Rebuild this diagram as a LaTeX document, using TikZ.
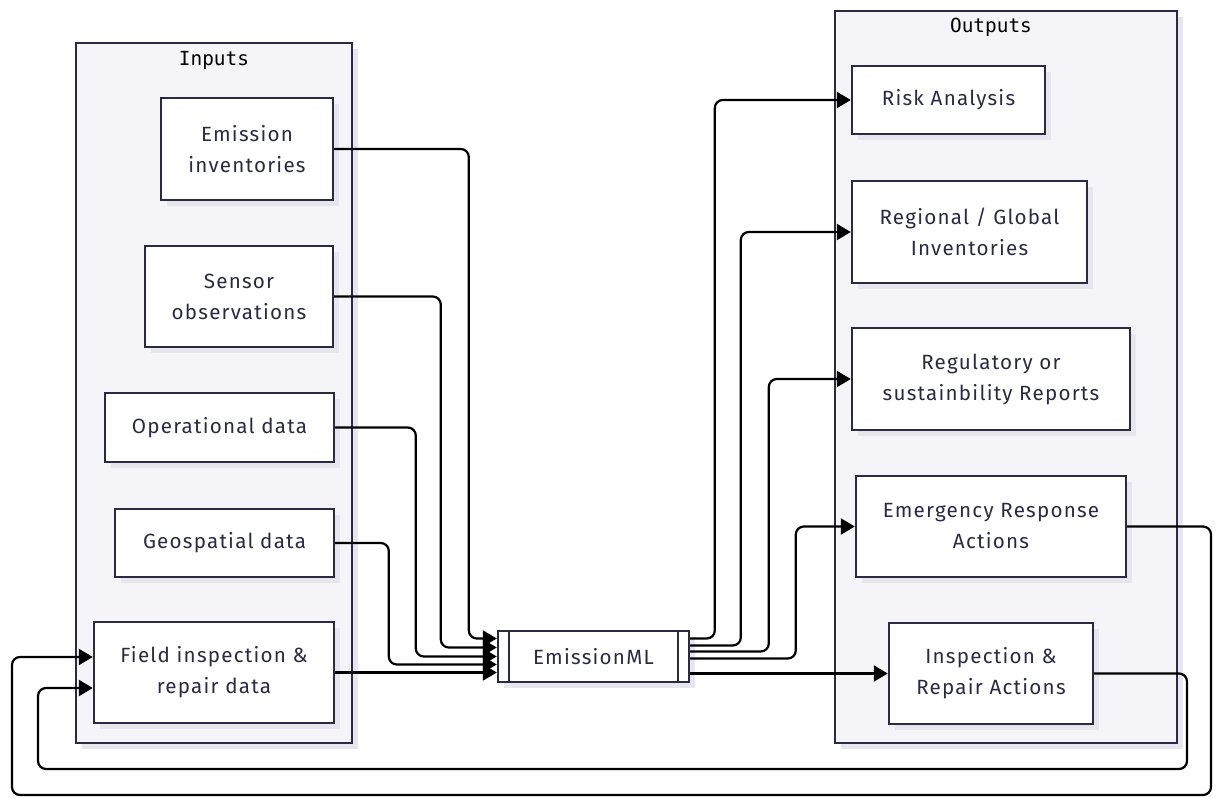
\documentclass[tikz,border=0pt]{standalone}
\usepackage{fontspec}
\setmainfont{Fira Sans}[LetterSpace=6]
\newfontfamily\titlefont{DejaVu Sans Mono}
\usetikzlibrary{arrows.meta,positioning,calc,shadows}
\definecolor{navy}{RGB}{42,42,69}
\definecolor{panel}{RGB}{244,244,249}
\definecolor{shade}{RGB}{230,230,236}

\begin{document}
\begin{tikzpicture}[x=0.5pt,y=-0.5pt,
    group/.style={draw=navy,fill=panel,line width=1.2pt,
      drop shadow={shadow xshift=3pt,shadow yshift=-3pt,fill=shade,opacity=1}},
    box/.style={draw=navy,fill=white,line width=1.2pt,align=center,text=navy,
      font=\fontsize{10.3}{15.5}\selectfont,
      drop shadow={shadow xshift=3pt,shadow yshift=-3pt,fill=shade,opacity=1}},
    grouptitle/.style={text=black,font=\titlefont\fontsize{9.7}{12}\selectfont},
    flow/.style={draw=black,line width=1.1pt,rounded corners=4pt,
      -{Triangle[length=7pt,width=8pt]}}]
    \useasboundingbox (0,0) rectangle (1217,798);

    % Groups
    \node[group,minimum width=138pt,minimum height=350pt] (inputs) at (214,393) {};
    \node[grouptitle] (inputstitle) at (214,60) {Inputs};
    \node[group,minimum width=171pt,minimum height=366pt] (outputs) at (1006,377) {};
    \node[grouptitle] (outputstitle) at (991,27) {Outputs};

    % Inputs
    \node[box,minimum width=86pt,minimum height=51pt] (inv) at (247,149) {Emission\\inventories};
    \node[box,minimum width=94pt,minimum height=50.5pt] (sens) at (239,296.5) {Sensor\\observations};
    \node[box,minimum width=114.5pt,minimum height=34.5pt] (oper) at (219.5,427.5) {Operational data};
    \node[box,minimum width=109.5pt,minimum height=34pt] (geo) at (224.5,543) {Geospatial data};
    \node[box,minimum width=120pt,minimum height=50.5pt] (field) at (214,672.5) {Field inspection \&\\repair data};

    % Core
    \node[box,minimum width=95.5pt,minimum height=25.5pt] (ml) at (593.5,656.5) {EmissionML};
    \draw[navy,line width=1.2pt] ([xshift=6pt]ml.north west) -- ([xshift=6pt]ml.south west);
    \draw[navy,line width=1.2pt] ([xshift=-6pt]ml.north east) -- ([xshift=-6pt]ml.south east);

    % Outputs
    \node[box,minimum width=96.5pt,minimum height=34pt] (risk) at (948.5,100) {Risk Analysis};
    \node[box,minimum width=117.5pt,minimum height=51pt] (inven) at (969.5,232) {Regional / Global\\Inventories};
    \node[box,minimum width=139pt,minimum height=51pt] (report) at (991,379) {Regulatory or\\sustainbility Reports};
    \node[box,minimum width=135pt,minimum height=50.5pt] (emerg) at (991,526.5) {Emergency Response\\Actions};
    \node[box,minimum width=102pt,minimum height=50.5pt] (repair) at (991,673.5) {Inspection \&\\Repair Actions};

    % Entry and exit points
    \coordinate (in1) at ([yshift=9pt]ml.west);
    \coordinate (in2) at ([yshift=4.5pt]ml.west);
    \coordinate (in3) at ([yshift=0pt]ml.west);
    \coordinate (in4) at ([yshift=-4pt]ml.west);
    \coordinate (out1) at ([yshift=9pt]ml.east);
    \coordinate (out2) at ([yshift=5.5pt]ml.east);
    \coordinate (out3) at ([yshift=2.5pt]ml.east);
    \coordinate (out4) at ([yshift=-1pt]ml.east);
    \coordinate (back1) at ([yshift=7.75pt]field.west);
    \coordinate (back2) at ([yshift=-7.75pt]field.west);

    % Arrows in
    \draw[flow] (inv.east) -| ($(in1)+(-28,0)$) -- (in1);
    \draw[flow] (sens.east) -| ($(in2)+(-56,0)$) -- (in2);
    \draw[flow] (oper.east) -| ($(in3)+(-81,0)$) -- (in3);
    \draw[flow] (geo.east) -| ($(in4)+(-108,0)$) -- (in4);
    \draw[flow] (field.east) -- (field.east -| ml.west);

    % Arrows out
    \draw[flow] (out1) -| ($(risk.west)+(-136,0)$) -- (risk.west);
    \draw[flow] (out2) -| ($(inven.west)+(-110,0)$) -- (inven.west);
    \draw[flow] (out3) -| ($(report.west)+(-82,0)$) -- (report.west);
    \draw[flow] (out4) -| ($(emerg.west)+(-59,0)$) -- (emerg.west);
    \draw[flow] (ml.east |- repair.west) -- (repair.west);

    % Feedback
    \draw[flow] (emerg.east) -| (1211,795) -| (12,657) -- (back1);
    \draw[flow] (repair.east) -| (1187,769) -| (38,688) -- (back2);
\end{tikzpicture}
\end{document}
